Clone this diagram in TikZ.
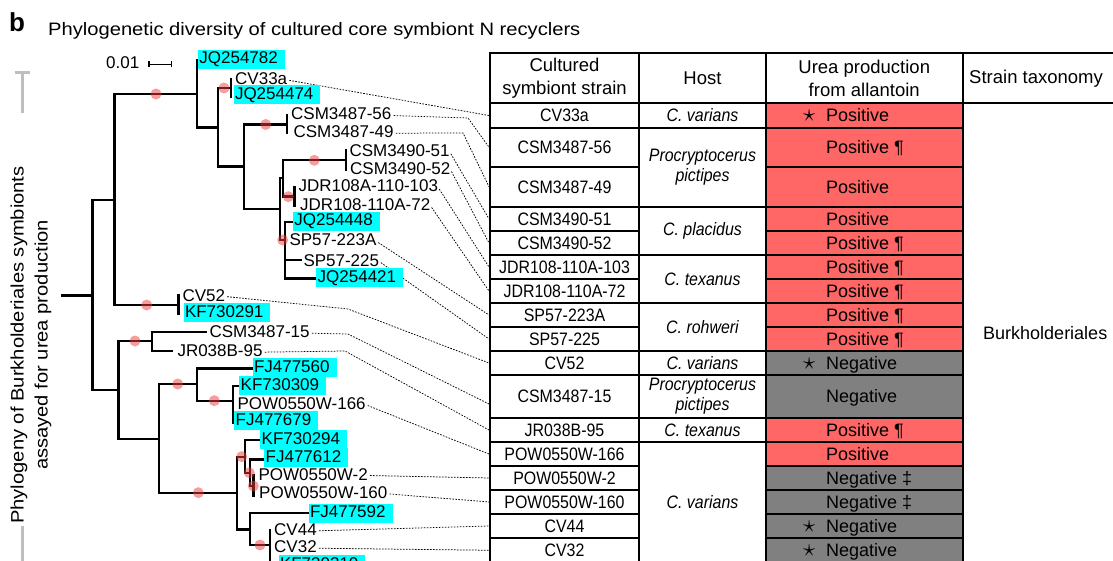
\documentclass[tikz,border=0pt]{standalone}
\usepackage{fontspec}
\setmainfont{Liberation Sans}
\newfontfamily\narrowfont[FakeStretch=0.885]{Liberation Sans}
\newfontfamily\widefont[FakeStretch=1.12]{Liberation Sans}
\usetikzlibrary{backgrounds}
\definecolor{posred}{RGB}{255,102,102}
\definecolor{neggray}{RGB}{128,128,128}
\definecolor{hlcyan}{RGB}{0,255,255}
\definecolor{dotred}{RGB}{238,60,60}
\definecolor{bargray}{RGB}{190,190,190}
\newcommand\treefont{\fontsize{17}{17}\selectfont}
\newcommand\tabfont{\fontsize{18}{20}\selectfont}
\newcommand\headfont{\fontsize{18.5}{22.5}\selectfont}
\newcommand\strainfont{\narrowfont\fontsize{18}{20}\selectfont}
\newcommand\hostfont{\narrowfont\itshape\fontsize{18}{20}\selectfont}
\newcommand\starmark{\llap{{\fontsize{26}{26}\selectfont$\star$}\hspace{11pt}}}
\newcommand\tabrow[6]{%
  \node[straincell, minimum height={#3-#2}] (s#1) at (564.5,{(#2+#3)/2}) {#4};
  \node[ureacell, fill=#5, minimum height={#3-#2}] (u#1) at (864.25,{(#2+#3)/2}) {};
  \node[ureatext] (t#1) at (826,{(#2+#3)/2}) {#6};
}
\newcommand\hostcell[4]{%
  \node[hostbox, minimum height={#3-#2}] (h#1) at (702.5,{(#2+#3)/2}) {#4};
}
\tikzset{
  branch/.style={line width=2.4pt, line cap=rect},
  lbl/.style={anchor=base west, inner sep=0pt, font=\treefont, text height=12.5pt, text depth=3.5pt},
  hl/.style={lbl, fill=hlcyan, inner xsep=1.5pt, inner ysep=1.5pt},
  conn/.style={line width=0.75pt, dash pattern=on 1.6pt off 1.4pt, shorten <=2pt},
  tline/.style={draw=black, line width=2pt},
  straincell/.style={tline, inner sep=0pt, minimum width=149pt, font=\strainfont, text height=12.9pt, text depth=0pt},
  ureacell/.style={tline, inner sep=0pt, minimum width=196.5pt},
  ureatext/.style={anchor=west, inner sep=0pt, font=\tabfont, text height=12.9pt, text depth=0pt},
  hostbox/.style={tline, inner sep=0pt, minimum width=127pt, align=center, font=\hostfont},
  headcell/.style={tline, inner sep=0pt, minimum height=50pt, align=center, font=\headfont},
  rdot/.style={fill=dotred, fill opacity=0.5},
  plain/.style={inner sep=0pt}
}
\begin{document}
\begin{tikzpicture}[x=1pt,y=-1pt]
\useasboundingbox (0,0) rectangle (1113,561);
\clip (0,0) rectangle (1113,561);

% titles
\node[plain, anchor=base west, font=\bfseries\fontsize{26}{26}\selectfont] (panel) at (9,32) {b};
\node[plain, anchor=base west, font=\widefont\fontsize{18}{18}\selectfont] (title) at (48,36) {Phylogenetic diversity of cultured core symbiont N recyclers};
\node[plain, rotate=90, align=center, font=\widefont\fontsize{18}{24}\selectfont] (ytitle) at (31,345) {Phylogeny of Burkholderiales symbionts\\assayed for urea production};
\draw[bargray, line width=3pt] (14.5,72.5) -- (29.5,72.5) (22,72.5) -- (22,113) (22,526) -- (22,565);

% scale bar
\node[plain, anchor=base west, font=\treefont] (sbl) at (106,68.5) {0.01};
\draw[line width=1.2pt] (149,64.5) -- (171.7,64.5) (149,61.5) -- (149,67.5) (171.7,61.5) -- (171.7,67.5);

% tree
\draw[branch]
 (62,295.5) -- (92.3,295.5)
 (92.3,200) -- (92.3,390)
 (92.3,200) -- (114.3,200)
 (114.3,94) -- (114.3,305)
 (114.3,94) -- (196.7,94)
 (196.7,60) -- (196.7,127.7)
 (196.7,127.7) -- (218,127.7)
 (218,88) -- (218,166.7)
 (218,88) -- (231,88)
 (231,79) -- (231,96.5)
 (218,166.7) -- (243.7,166.7)
 (243.7,124.5) -- (243.7,209.3)
 (243.7,124.5) -- (286.7,124.5)
 (286.7,115) -- (286.7,133)
 (243.7,209.3) -- (280,209.3)
 (280,178) -- (280,240)
 (280,178) -- (282.7,178)
 (282.7,160.3) -- (282.7,196.7)
 (282.7,160.3) -- (345.7,160.3)
 (345.7,150.5) -- (345.7,170)
 (282.7,196.7) -- (294.5,196.7)
 (294.5,187) -- (294.5,206)
 (280,240) -- (285,240)
 (285,222) -- (285,278.3)
 (285,222) -- (292.7,222)
 (285,260) -- (301,260)
 (285,278.3) -- (316,278.3)
 (114.3,305) -- (178.3,305)
 (178.3,295) -- (178.3,314)
 (92.3,390) -- (118.3,390)
 (118.3,341) -- (118.3,439)
 (118.3,341) -- (151.7,341)
 (151.7,331.7) -- (151.7,350.7)
 (151.7,331.7) -- (205.7,331.7)
 (151.7,350.7) -- (171.7,350.7)
 (118.3,439) -- (159,439)
 (159,384) -- (159,492.7)
 (159,384) -- (196.7,384)
 (196.7,368.3) -- (196.7,400.7)
 (196.7,368.3) -- (251.7,368.3)
 (196.7,400.7) -- (232.7,400.7)
 (232.7,386) -- (232.7,423)
 (232.7,386) -- (238,386)
 (159,492.7) -- (236.7,492.7)
 (236.7,456.7) -- (236.7,529.3)
 (236.7,456.7) -- (245,456.7)
 (245,440) -- (245,472.7)
 (245,440) -- (260,440)
 (245,472.7) -- (250,472.7)
 (250,459.3) -- (250,486)
 (250,459.3) -- (264,459.3)
 (250,486) -- (253.3,486)
 (253.3,475) -- (253.3,496)
 (236.7,529.3) -- (250,529.3)
 (250,513) -- (250,545)
 (250,513) -- (308.3,513)
 (250,545) -- (270,545)
 (270,530) -- (270,580);

\foreach \p in {(156,94),(224,88),(265.7,124.5),(314.3,160.3),(288.3,196.7),(282.7,240),(146.7,305),(135,341),(177.7,384),(214.3,400.7),(198.3,492.7),(241.7,456.7),(249.3,472.7),(253.3,486),(260,545)}
  \fill[rdot] \p circle (5.5);

% leaf labels
\node[hl] (lJQa) at (197.7,64) {JQ254782\kern5.5pt};
\node[lbl] (lCV33a) at (235,84.5) {CV33a};
\node[hl] (lJQb) at (233.3,99.5) {JQ254474\kern5.5pt};
\node[lbl] (lCSMa) at (291,120) {CSM3487-56};
\node[lbl] (lCSMb) at (293.3,137.7) {CSM3487-49};
\node[lbl] (l3490a) at (349.3,156.7) {CSM3490-51};
\node[lbl] (l3490b) at (350,174.3) {CSM3490-52};
\node[lbl] (lJDRa) at (298.3,192) {JDR108A-110-103};
\node[lbl] (lJDRb) at (300,210.3) {JDR108-110A-72};
\node[hl] (lJQc) at (292.7,225.7) {JQ254448\kern5.5pt};
\node[lbl] (lSPa) at (289.3,246) {SP57-223A};
\node[lbl] (lSPb) at (303.3,266) {SP57-225};
\node[hl] (lJQd) at (316,282.3) {JQ254421\kern5.5pt};
\node[lbl] (lCV52) at (182.3,301) {CV52};
\node[hl] (lKFa) at (183.3,317.3) {KF730291\kern5.5pt};
\node[lbl] (lCSM15) at (209.3,337.7) {CSM3487-15};
\node[lbl] (lJR) at (177.3,356.7) {JR038B-95};
\node[hl] (lFJa) at (252.3,372.3) {FJ477560\kern5.5pt};
\node[hl] (lKFb) at (239,390) {KF730309\kern5.5pt};
\node[lbl] (lPOWa) at (237.3,409.3) {POW0550W-166};
\node[hl] (lFJb) at (234,425) {FJ477679\kern5.5pt};
\node[hl] (lKFc) at (260,444) {KF730294\kern5.5pt};
\node[hl] (lFJc) at (264,462.3) {FJ477612\kern5.5pt};
\node[lbl] (lPOWb) at (258.3,480) {POW0550W-2};
\node[lbl] (lPOWc) at (259,498.3) {POW0550W-160};
\node[hl] (lFJd) at (308.3,517.5) {FJ477592\kern5.5pt};
\node[lbl] (lCV44) at (274,535.3) {CV44};
\node[lbl] (lCV32) at (274,552.7) {CV32};
\node[hl] (lKFd) at (278.3,569) {KF730310\kern5.5pt};

% table header
\node[headcell, minimum width=149pt] (hd1) at (564.5,78.3) {Cultured\\symbiont strain};
\node[headcell, minimum width=127pt] (hd2) at (702.5,78.3) {Host};
\node[headcell, minimum width=196.5pt] (hd3) at (864.25,78.3) {Urea production\\from allantoin};
\node[headcell, minimum width=200pt] (hd4) at (1062.5,78.3) {};
\node[plain, anchor=west, font=\headfont] (hd4t) at (969,78.3) {Strain taxonomy};
\node[plain, anchor=west, font=\tabfont] (tax) at (983,333) {Burkholderiales};

% table body
\tabrow{1}{103.3}{127.7}{CV33a}{posred}{\starmark Positive}
\tabrow{2}{127.7}{166.7}{CSM3487-56}{posred}{Positive ¶}
\tabrow{3}{166.7}{206.7}{CSM3487-49}{posred}{Positive}
\tabrow{4}{206.7}{231}{CSM3490-51}{posred}{Positive}
\tabrow{5}{231}{255}{CSM3490-52}{posred}{Positive ¶}
\tabrow{6}{255}{279}{JDR108-110A-103}{posred}{Positive ¶}
\tabrow{7}{279}{303}{JDR108-110A-72}{posred}{Positive ¶}
\tabrow{8}{303}{327}{SP57-223A}{posred}{Positive ¶}
\tabrow{9}{327}{351}{SP57-225}{posred}{Positive ¶}
\tabrow{10}{351}{375}{CV52}{neggray}{\starmark Negative}
\tabrow{11}{375}{418}{CSM3487-15}{neggray}{Negative}
\tabrow{12}{418}{442}{JR038B-95}{posred}{Positive ¶}
\tabrow{13}{442}{466}{POW0550W-166}{posred}{Positive}
\tabrow{14}{466}{490}{POW0550W-2}{neggray}{Negative ‡}
\tabrow{15}{490}{514}{POW0550W-160}{neggray}{Negative ‡}
\tabrow{16}{514}{538}{CV44}{neggray}{\starmark Negative}
\tabrow{17}{538}{562.5}{CV32}{neggray}{\starmark Negative}

\hostcell{1}{103.3}{127.7}{C. varians}
\hostcell{2}{127.7}{206.7}{Procryptocerus\\pictipes}
\hostcell{3}{206.7}{255}{C. placidus}
\hostcell{4}{255}{303}{C. texanus}
\hostcell{5}{303}{351}{C. rohweri}
\hostcell{6}{351}{375}{C. varians}
\hostcell{7}{375}{418}{Procryptocerus\\pictipes}
\hostcell{8}{418}{442}{C. texanus}
\hostcell{9}{442}{562.5}{C. varians}

% connectors
\begin{scope}[on background layer]
\draw[conn] (lCV33a.east) -- (s1.west);
\draw[conn] (lCSMa.east) -- (468,118) -- (s2.west);
\draw[conn] (lCSMb.east) -- (463,133) -- (s3.west);
\draw[conn] (l3490a.east) -- (s4.west);
\draw[conn] (l3490b.east) -- (s5.west);
\draw[conn] (lJDRa.east) -- (s6.west);
\draw[conn] (lJDRb.east) -- (s7.west);
\draw[conn] (lSPa.east) -- (s8.west);
\draw[conn] (lSPb.east) -- (s9.west);
\draw[conn] (lCV52.east) -- (348,309) -- (s10.west);
\draw[conn] (lCSM15.east) -- (348,334) -- ([yshift=-7.5pt]s11.west);
\draw[conn] (lJR.east) -- (345,351) -- (s12.west);
\draw[conn] (lPOWa.east) -- (s13.west);
\draw[conn] (lPOWb.east) -- (s14.west);
\draw[conn] (lPOWc.east) -- (s15.west);
\draw[conn] (lCV44.east) -- (s16.west);
\draw[conn] (lCV32.east) -- (s17.west);
\end{scope}
\end{tikzpicture}
\end{document}
